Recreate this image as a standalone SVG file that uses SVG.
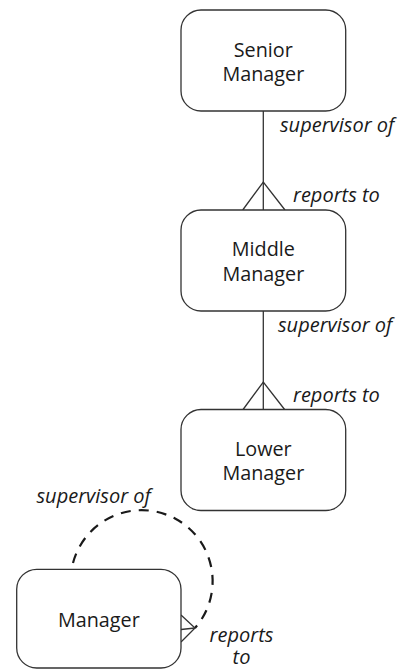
<svg xmlns="http://www.w3.org/2000/svg" width="410" height="670" viewBox="0 0 410 670">
<style>
.box{fill:#fff;stroke:#333;stroke-width:1.3}
.t{font-family:"Open Sans","Noto Sans",sans-serif;font-size:19.8px;fill:#1a1a1a;text-anchor:middle}
.l{font-family:"Open Sans","Noto Sans",sans-serif;font-size:20px;font-style:italic;fill:#1a1a1a}
.ln{fill:none;stroke:#333;stroke-width:1.3}
.dash{fill:none;stroke:#1a1a1a;stroke-width:2.2;stroke-dasharray:10 8}
</style>
<rect width="410" height="670" fill="#fff"/>
<g id="connectors">
<line class="ln" x1="263.3" y1="111" x2="263.3" y2="210"/>
<polyline class="ln" points="242.7,210 263.3,182 285,210"/>
<line class="ln" x1="263.3" y1="311" x2="263.3" y2="410"/>
<polyline class="ln" points="242.7,410 263.3,382 285,410"/>
<path class="dash" d="M 73 563 A 71 71 0 1 1 195 628"/>
<polyline class="ln" points="181,615 195,628 181,642"/>
<line class="ln" x1="181" y1="629.5" x2="195" y2="628"/>
<text class="l" x="280" y="131.5">supervisor of</text>
<text class="l" x="293" y="201.5">reports to</text>
<text class="l" x="278" y="331.5">supervisor of</text>
<text class="l" x="293" y="401.5">reports to</text>
<text class="l" x="36.5" y="503">supervisor of</text>
<text class="l" x="241.5" y="641.5" text-anchor="middle">reports</text>
<text class="l" x="241.5" y="663.5" text-anchor="middle">to</text>
</g>
<g id="senior-manager">
<rect class="box" x="181" y="10" width="164.7" height="101" rx="20"/>
<text class="t" x="263.3" y="57">Senior</text>
<text class="t" x="263.3" y="80.7">Manager</text>
</g>
<g id="middle-manager">
<rect class="box" x="181" y="210" width="164.7" height="101" rx="20"/>
<text class="t" x="263.3" y="256">Middle</text>
<text class="t" x="263.3" y="280.7">Manager</text>
</g>
<g id="lower-manager">
<rect class="box" x="181" y="409.5" width="164.7" height="101" rx="20"/>
<text class="t" x="263.3" y="455.5">Lower</text>
<text class="t" x="263.3" y="480">Manager</text>
</g>
<g id="manager">
<rect class="box" x="16.7" y="569.3" width="164.3" height="98.7" rx="20"/>
<text class="t" x="98.8" y="626.7">Manager</text>
</g>
</svg>
